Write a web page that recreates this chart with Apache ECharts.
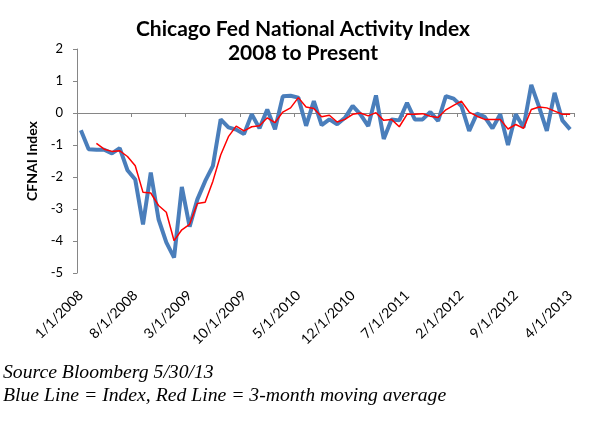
<!DOCTYPE html>
<html>
<head>
<meta charset="utf-8">
<script src="https://cdn.jsdelivr.net/npm/echarts@6/dist/echarts.min.js"></script>
<style>
  html, body { margin: 0; padding: 0; background: #fff; }
  #main { width: 589px; height: 421px; }
</style>
</head>
<body>
<div id="main"></div>
<script>
// monthly labels 1/1/2008 .. 4/1/2013
const months = []
for (let y = 2008; y <= 2013; y++) {
  for (let m = 1; m <= 12; m++) {
    if (y === 2013 && m > 4) break
    months.push(m + '/1/' + y)
  }
}

// CFNAI index (blue line)
const indexValues = [
  -0.54, -1.13, -1.15, -1.15, -1.26, -1.10, -1.79, -2.08, -3.48, -1.86,
  -3.32, -4.04, -4.52, -2.31, -3.55, -2.70, -2.13, -1.65, -0.20, -0.45,
  -0.52, -0.66, -0.04, -0.48, 0.11, -0.51, 0.52, 0.54, 0.48, -0.40,
  0.37, -0.38, -0.20, -0.35, -0.15, 0.22, -0.04, -0.41, 0.55, -0.81,
  -0.20, -0.23, 0.32, -0.20, -0.20, 0.03, -0.25, 0.53, 0.45, 0.22,
  -0.56, -0.02, -0.12, -0.48, -0.04, -1.00, -0.04, -0.45, 0.88, 0.19,
  -0.56, 0.63, -0.23, -0.51
]

// 3-month moving average (red line)
const avgValues = [
  null, null, -0.95, -1.13, -1.20, -1.18, -1.36, -1.65, -2.48, -2.50,
  -2.89, -3.10, -3.99, -3.65, -3.48, -2.83, -2.79, -2.13, -1.31, -0.74,
  -0.41, -0.56, -0.43, -0.40, -0.15, -0.30, 0.03, 0.16, 0.48, 0.19,
  0.14, -0.12, -0.07, -0.28, -0.20, -0.04, 0.00, -0.09, 0.01, -0.23,
  -0.20, -0.43, -0.04, -0.04, -0.02, -0.10, -0.14, 0.10, 0.24, 0.37,
  0.03, -0.10, -0.20, -0.20, -0.20, -0.50, -0.36, -0.48, 0.11, 0.19,
  0.16, 0.06, -0.04, -0.04
]

const titleLines = ['Chicago Fed National Activity Index', '2008 to Present']
const footLines = ['Source Bloomberg 5/30/13', 'Blue Line = Index, Red Line = 3-month moving average']

const chart = echarts.init(document.getElementById('main'))
const axisGrey = '#868686'

const titleText = titleLines.map((t, i) => ({
  type: 'text',
  x: 303,
  y: 29 + i * 24,
  style: {
    text: t,
    font: 'bold 21px Lato',
    fill: '#000',
    align: 'center',
    verticalAlign: 'middle'
  }
}))

const footText = footLines.map((t, i) => ({
  type: 'text',
  x: 3,
  y: 373 + i * 23,
  style: {
    text: t,
    font: 'italic 19.7px "Liberation Serif"',
    fill: '#000',
    align: 'left',
    verticalAlign: 'middle'
  }
}))

const option = {
  animation: false,
  backgroundColor: '#fff',
  grid: {
    left: 77,
    right: 15,
    top: 49,
    bottom: 148,
    containLabel: false,
    outerBoundsMode: 'none'
  },
  xAxis: [
    {
      type: 'category',
      data: months,
      boundaryGap: true,
      axisLine: { onZero: true, lineStyle: { color: axisGrey, width: 1 } },
      axisTick: { show: true, interval: 6, length: 4, lineStyle: { color: axisGrey } },
      axisLabel: { show: false }
    },
    {
      type: 'category',
      data: months,
      position: 'bottom',
      boundaryGap: true,
      axisLine: { show: false, onZero: false },
      axisTick: { show: false },
      axisLabel: {
        interval: 6,
        rotate: 45,
        margin: 20,
        fontFamily: 'Lato',
        fontSize: 14,
        color: '#000'
      }
    }
  ],
  yAxis: {
    type: 'value',
    min: -5,
    max: 2,
    interval: 1,
    name: 'CFNAI Index',
    nameLocation: 'middle',
    nameGap: 37,
    nameTextStyle: { fontFamily: 'Lato', fontSize: 14, fontWeight: 'bold', color: '#000' },
    axisLine: { show: true, lineStyle: { color: axisGrey } },
    axisTick: { show: true, length: 4, lineStyle: { color: axisGrey } },
    splitLine: { show: false },
    axisLabel: { fontFamily: 'Lato', fontSize: 13, color: '#000', margin: 14 }
  },
  series: [
    {
      name: 'Index',
      type: 'line',
      xAxisIndex: 0,
      data: indexValues,
      showSymbol: false,
      lineStyle: { color: '#4a7ebb', width: 4 },
      z: 2
    },
    {
      name: '3-month moving average',
      type: 'line',
      xAxisIndex: 0,
      data: avgValues,
      showSymbol: false,
      lineStyle: { color: '#ff0000', width: 1.5 },
      z: 3
    }
  ],
  graphic: titleText.concat(footText)
}

chart.setOption(option)
</script>
</body>
</html>
